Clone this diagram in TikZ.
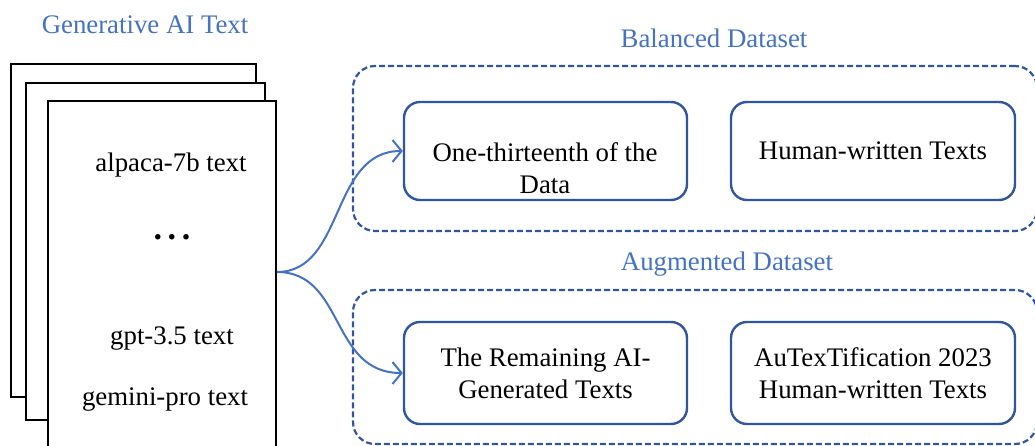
\documentclass[tikz,border=0pt]{standalone}
\usepackage{fontspec}
\setmainfont{Liberation Serif}
\usetikzlibrary{arrows.meta}
\definecolor{titleblue}{HTML}{4472C4}
\definecolor{frameblue}{HTML}{2F55A3}
\begin{document}
\begin{tikzpicture}[x=1pt,y=-1pt,
  page/.style={draw=black, line width=2.6pt, fill=white, inner sep=0pt},
  txt/.style={font=\fontsize{26.8}{32}\selectfont, align=center, inner sep=0pt},
  heading/.style={txt, text=titleblue},
  group/.style={draw=frameblue, line width=2.2pt, dash pattern=on 6pt off 3pt,
    rounded corners=22pt, inner sep=0pt},
  item/.style={draw=frameblue, line width=2.4pt, rounded corners=16pt, fill=white,
    inner sep=0pt, minimum height=98pt, txt},
  flow/.style={draw=titleblue, line width=2pt,
    -{Straight Barb[length=9pt,width=22pt,line width=2pt]}}]

\useasboundingbox (0,0) rectangle (1035,446);

% stack of generated-text pages
\node[page, minimum width=245pt, minimum height=333pt] (back) at (133.5,230.5) {};
\node[page, minimum width=239pt, minimum height=337pt] (mid) at (145.5,251.5) {};
\node[page, minimum width=228pt, minimum height=360pt] (front) at (162,281) {};
\node[heading] (gentitle) at (145,25) {Generative AI Text};

\node[txt] (alpaca) at (171,165) {alpaca-7b text};
\node[txt, font=\fontsize{34}{36}\bfseries] (dots) at (172,237) {.\,.\,.};
\node[txt] (gpt) at (172,339) {gpt-3.5 text};
\node[txt] (gemini) at (165,400) {gemini-pro text};

% dataset groups
\node[group, minimum width=684pt, minimum height=165pt] (balanced) at (695,148.5) {};
\node[heading] (baltitle) at (714,38) {Balanced Dataset};
\node[group, minimum width=684pt, minimum height=154pt] (augmented) at (695,367) {};
\node[heading] (augtitle) at (727,264) {Augmented Dataset};

\node[item, minimum width=283pt] (onethir) at (545.5,151) {};
\node[txt] (onethirtext) at (545,168) {One-thirteenth of the\\Data};
\node[item, minimum width=284pt] (human) at (873,151) {Human-written Texts};
\node[item, minimum width=283pt, minimum height=102pt] (remain) at (545.5,373)
  {The Remaining AI-\\Generated Texts};
\node[item, minimum width=284pt, minimum height=102pt] (autext) at (873,373)
  {AuTexTification 2023\\Human-written Texts};

% split arrows
\coordinate (src) at (277,272);
\draw[flow] (src) .. controls (345,272) and (330,151) .. (onethir.west);
\draw[flow] (src) .. controls (345,272) and (330,373) .. (remain.west);
\end{tikzpicture}
\end{document}
